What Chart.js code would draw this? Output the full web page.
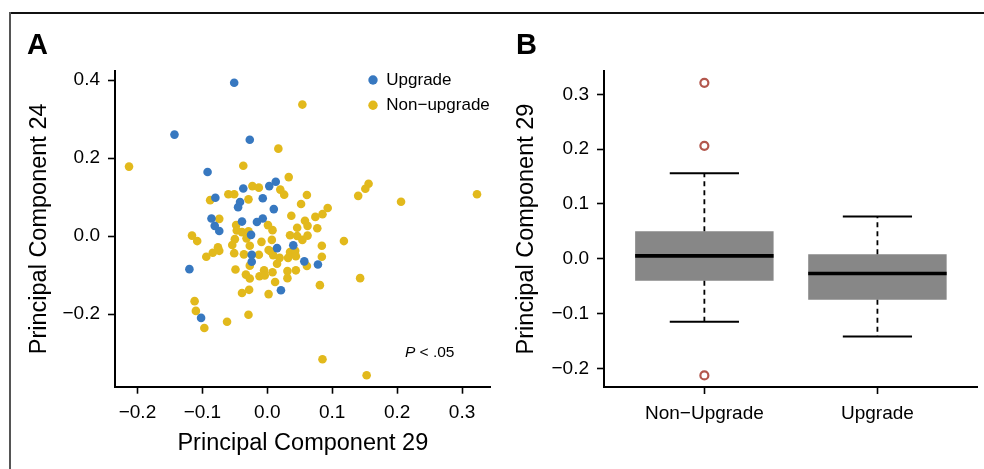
<!DOCTYPE html>
<html>
<head>
<meta charset="utf-8">
<script src="https://cdn.jsdelivr.net/npm/chart.js@4/dist/chart.umd.min.js"></script>
<style>
html,body{margin:0;padding:0;background:#fff;}
body{width:984px;height:469px;position:relative;overflow:hidden;font-family:"Liberation Sans",Arial,sans-serif;}
#frameTop{position:absolute;left:9px;top:12px;width:975px;height:2px;background:#111;}
#frameLeft{position:absolute;left:9px;top:12px;width:2px;height:457px;background:#555;}
.panel{position:absolute;font-weight:bold;font-size:29px;line-height:29px;color:#000;}
#wrapA{position:absolute;left:0;top:0;width:495px;height:469px;}
#wrapB{position:absolute;left:495px;top:0;width:489px;height:469px;}
canvas{display:block;}
</style>
</head>
<body>
<div id="frameTop"></div>
<div id="frameLeft"></div>
<div id="wrapA"><canvas id="chartA" width="495" height="469"></canvas></div>
<div id="wrapB"><canvas id="chartB" width="489" height="469"></canvas></div>
<div class="panel" style="left:27px;top:29.5px;">A</div>
<div class="panel" style="left:516px;top:29.5px;">B</div>
<script>
// ---------- Panel A data (scatter: PC29 vs PC24) ----------
const upgradePC29 = [-0.051,-0.143,-0.027,-0.092,0.003,0.013,-0.037,-0.080,-0.007,-0.042,-0.045,0.010,-0.086,-0.039,-0.007,-0.016,-0.081,-0.074,-0.025,0.015,0.040,-0.024,-0.024,-0.120,0.057,0.078,0.021,-0.102];
const upgradePC24 = [0.393,0.260,0.247,0.164,0.128,0.139,0.122,0.098,0.097,0.087,0.074,0.069,0.045,0.037,0.045,0.036,0.026,0.013,0.003,-0.031,-0.024,-0.048,-0.066,-0.085,-0.065,-0.073,-0.139,-0.210];
const nonUpgradePC29 = [0.054,-0.213,0.017,-0.037,0.033,-0.023,-0.013,0.020,0.026,-0.060,-0.051,0.061,-0.088,-0.029,0.052,0.156,0.151,0.140,0.206,0.323,0.093,0.085,0.074,0.037,0.058,0.062,0.046,0.077,-0.074,-0.048,0.001,0.008,-0.047,-0.039,-0.029,0.035,0.046,0.054,0.062,-0.116,-0.108,-0.050,-0.054,-0.032,-0.027,-0.009,0.007,0.084,0.118,-0.076,-0.084,-0.074,-0.094,-0.051,-0.036,-0.013,0.002,0.005,0.009,0.019,0.015,0.032,0.035,0.043,0.044,0.084,0.061,-0.027,-0.049,-0.033,-0.027,-0.012,-0.005,-0.004,0.008,0.012,0.031,0.031,0.044,0.081,0.143,-0.039,-0.028,0.002,-0.112,-0.110,-0.097,-0.062,-0.029,0.085,0.153];
const nonUpgradePC24 = [0.337,0.178,0.224,0.180,0.151,0.128,0.124,0.119,0.106,0.107,0.107,0.105,0.092,0.094,0.082,0.134,0.121,0.103,0.088,0.107,0.072,0.056,0.049,0.052,0.039,0.026,0.021,0.020,0.044,0.028,0.028,0.015,0.014,0.010,0.012,0.002,0.000,-0.010,0.001,0.001,-0.013,-0.008,-0.023,-0.006,-0.025,-0.015,-0.010,-0.025,-0.013,-0.029,-0.043,-0.038,-0.053,-0.044,-0.047,-0.048,-0.036,-0.039,-0.049,-0.056,-0.071,-0.056,-0.041,-0.038,-0.052,-0.053,-0.077,-0.076,-0.086,-0.099,-0.109,-0.103,-0.088,-0.101,-0.093,-0.118,-0.090,-0.108,-0.088,-0.126,-0.108,-0.146,-0.138,-0.149,-0.167,-0.192,-0.236,-0.220,-0.202,-0.316,-0.357];
const seriesNamesA = ['Upgrade', 'Non\u2212upgrade'];
const xTicksA = [-0.2, -0.1, 0.0, 0.1, 0.2, 0.3];
const xTickLabelsA = ['\u22120.2', '\u22120.1', '0.0', '0.1', '0.2', '0.3'];
const yTicksA = [-0.2, 0.0, 0.2, 0.4];
const yTickLabelsA = ['\u22120.2', '0.0', '0.2', '0.4'];
const pNote = {x: 0.212, y: -0.299, italic: 'P', rest: ' < .05'};

// ---------- Panel B data (boxplot of PC29) ----------
const groupsB = ['Non\u2212Upgrade', 'Upgrade'];
const whiskerLow = [-0.115, -0.142];
const quartile1 = [-0.040, -0.075];
const medians = [0.005, -0.027];
const quartile3 = [0.050, 0.008];
const whiskerHigh = [0.156, 0.077];
const outlierGroup = [0, 0, 0];
const outlierValues = [0.321, 0.206, -0.213];
const yTicksB = [-0.2, -0.1, 0.0, 0.1, 0.2, 0.3];
const yTickLabelsB = ['\u22120.2', '\u22120.1', '0.0', '0.1', '0.2', '0.3'];

// ---------- styling ----------
const FONT = "'Liberation Sans', Arial, sans-serif";
Chart.defaults.font.family = FONT;
Chart.defaults.color = '#000';
const BLUE = '#3778c0';
const YELLOW = '#e2b91c';
const TICK_FONT = {family: FONT, size: 19};
const TITLE_FONT = {family: FONT, size: 23.5};

function axisStyle(tickLabels, tickValues) {
  return {
    afterBuildTicks: s => { s.ticks = tickValues.map(v => ({value: v})); },
    ticks: {callback: (v, i) => tickLabels[i], font: TICK_FONT, color: '#000', padding: 8, autoSkip: false, maxRotation: 0, minRotation: 0},
    grid: {display: true, offset: false, drawOnChartArea: false, drawTicks: true, tickLength: 7, tickWidth: 1.6, tickColor: '#000'},
    border: {display: true, color: '#000', width: 2}
  };
}

const insetLegend = {
  id: 'insetLegend',
  afterDraw(chart) {
    const {ctx, chartArea} = chart;
    const cx = chartArea.right - 117.7;
    ctx.save();
    chart.data.datasets.forEach((ds, i) => {
      const cy = chartArea.top + 9 + i * 25.3;
      ctx.beginPath();
      ctx.arc(cx, cy, 4.7, 0, Math.PI * 2);
      ctx.fillStyle = ds.backgroundColor;
      ctx.fill();
      ctx.font = '17px ' + FONT;
      ctx.textBaseline = 'middle';
      ctx.textAlign = 'left';
      ctx.fillStyle = '#000';
      ctx.fillText(ds.label, cx + 13.3, cy);
    });
    ctx.restore();
  }
};

const pNotePlugin = {
  id: 'pNote',
  afterDraw(chart) {
    const {ctx, scales: {x, y}} = chart;
    const px = x.getPixelForValue(pNote.x);
    const py = y.getPixelForValue(pNote.y);
    ctx.save();
    ctx.textBaseline = 'middle';
    ctx.textAlign = 'left';
    ctx.fillStyle = '#000';
    ctx.font = 'italic 15.5px ' + FONT;
    ctx.fillText(pNote.italic, px, py);
    const w = ctx.measureText(pNote.italic).width;
    ctx.font = '15.5px ' + FONT;
    ctx.fillText(pNote.rest, px + w, py);
    ctx.restore();
  }
};

new Chart(document.getElementById('chartA'), {
  type: 'scatter',
  data: {
    datasets: [
      {label: seriesNamesA[0], data: upgradePC29.map((v, i) => ({x: v, y: upgradePC24[i]})),
       backgroundColor: BLUE, borderWidth: 0, pointRadius: 4.3, pointHoverRadius: 4.3},
      {label: seriesNamesA[1], data: nonUpgradePC29.map((v, i) => ({x: v, y: nonUpgradePC24[i]})),
       backgroundColor: YELLOW, borderWidth: 0, pointRadius: 4.3, pointHoverRadius: 4.3}
    ]
  },
  options: {
    responsive: false, animation: false, devicePixelRatio: 1,
    layout: {padding: {top: 71, right: 3.3, left: 0, bottom: 0}},
    plugins: {legend: {display: false}, tooltip: {enabled: false}},
    scales: {
      x: Object.assign(axisStyle(xTickLabelsA, xTicksA), {
        type: 'linear', min: -0.2346, max: 0.3441,
        afterFit: s => { s.height = 82.3; },
        title: {display: true, text: 'Principal Component 29', font: TITLE_FONT, color: '#000', padding: {top: 0, bottom: 10.9}}
      }),
      y: Object.assign(axisStyle(yTickLabelsA, yTicksA), {
        type: 'linear', min: -0.3864, max: 0.4231,
        afterFit: s => { s.width = 115; },
        title: {display: true, text: 'Principal Component 24', font: TITLE_FONT, color: '#000', padding: {top: 25.9, bottom: 0}}
      })
    }
  },
  plugins: [insetLegend, pNotePlugin]
});

const boxParts = {
  id: 'boxParts',
  afterDatasetsDraw(chart) {
    const {ctx, scales: {x, y}} = chart;
    const meta = chart.getDatasetMeta(0);
    const seg = (x1, y1, x2, y2) => { ctx.beginPath(); ctx.moveTo(x1, y1); ctx.lineTo(x2, y2); ctx.stroke(); };
    ctx.save();
    ctx.strokeStyle = '#000';
    groupsB.forEach((g, i) => {
      const cx = x.getPixelForValue(i);
      const half = meta.data[i].width / 2;
      const yHi = y.getPixelForValue(whiskerHigh[i]);
      const yLo = y.getPixelForValue(whiskerLow[i]);
      const yQ1 = y.getPixelForValue(quartile1[i]);
      const yQ3 = y.getPixelForValue(quartile3[i]);
      const yMed = y.getPixelForValue(medians[i]);
      ctx.lineWidth = 1.8;
      ctx.setLineDash([5, 4]);
      seg(cx, yQ3, cx, yHi);
      seg(cx, yQ1, cx, yLo);
      ctx.setLineDash([]);
      ctx.lineWidth = 2;
      seg(cx - half / 2, yHi, cx + half / 2, yHi);
      seg(cx - half / 2, yLo, cx + half / 2, yLo);
      ctx.lineWidth = 3.7;
      seg(cx - half, yMed, cx + half, yMed);
    });
    ctx.restore();
  }
};

new Chart(document.getElementById('chartB'), {
  type: 'bar',
  data: {
    datasets: [
      {type: 'bar', label: 'Interquartile range',
       data: groupsB.map((g, i) => ({x: i, y: [quartile1[i], quartile3[i]]})),
       backgroundColor: '#878787', borderWidth: 0, borderSkipped: false,
       barPercentage: 0.8, categoryPercentage: 1},
      {type: 'scatter', label: 'Outliers',
       data: outlierValues.map((v, i) => ({x: outlierGroup[i], y: v})),
       pointStyle: 'circle', pointRadius: 4, pointHoverRadius: 4,
       borderColor: '#b3574d', borderWidth: 2.2, backgroundColor: 'rgba(0,0,0,0)'}
    ]
  },
  options: {
    responsive: false, animation: false, devicePixelRatio: 1,
    layout: {padding: {top: 71, right: 4, left: 0, bottom: 0}},
    plugins: {legend: {display: false}, tooltip: {enabled: false}},
    scales: {
      x: Object.assign(axisStyle(groupsB, [0, 1]), {
        type: 'linear', min: -0.58, max: 1.58, offset: false,
        afterFit: s => { s.height = 82; }
      }),
      y: Object.assign(axisStyle(yTickLabelsB, yTicksB), {
        type: 'linear', min: -0.2341, max: 0.3425,
        afterFit: s => { s.width = 109; },
        title: {display: true, text: 'Principal Component 29', font: TITLE_FONT, color: '#000', padding: {top: 17.9, bottom: 0}}
      })
    }
  },
  plugins: [boxParts]
});
</script>
</body>
</html>
